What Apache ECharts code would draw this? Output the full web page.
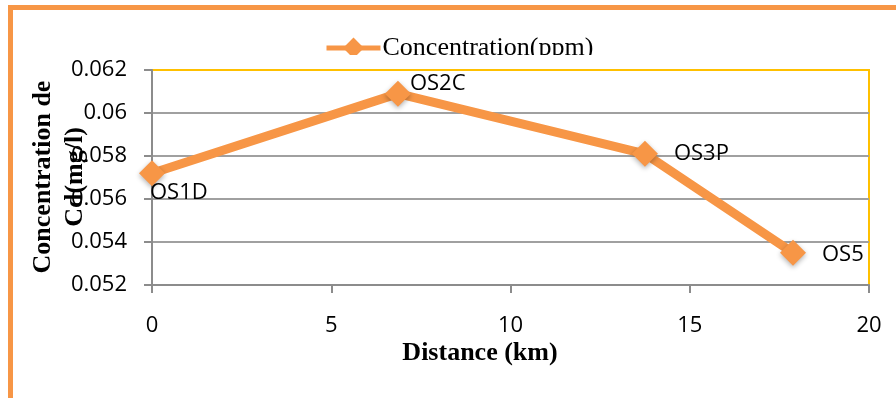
<!DOCTYPE html>
<html>
<head>
<meta charset="utf-8">
<script src="https://cdn.jsdelivr.net/npm/echarts@6/dist/echarts.min.js"></script>
<style>
html,body{margin:0;padding:0;background:#fff;}
#c{width:896px;height:398px;}
</style>
</head>
<body>
<div id="c"></div>
<script>
// ---- data ----
const sites = ['OS1D', 'OS2C', 'OS3P', 'OS5'];
const distanceKm = [0, 6.86, 13.75, 17.88];
const concentration = [0.0572, 0.0609, 0.0581, 0.0535];
const seriesName = 'Concentration(ppm)';
const xTitle = 'Distance (km)';
const yTitle = 'Concentration de\nCd(mg/l)';

// ---- styling ----
const ORANGE = '#F79646';
const labelOffsets = [[-2, 20], [12, -10], [29, 0], [29, 2]];
const tickFont = '"Open Sans", sans-serif';
const serif = '"Liberation Serif", "Times New Roman", serif';

const chart = echarts.init(document.getElementById('c'), null, {renderer: 'canvas'});

const data = distanceKm.map((d, i) => ({
  value: [d, concentration[i]],
  name: sites[i],
  label: {offset: labelOffsets[i]}
}));

chart.setOption({
  animation: false,
  backgroundColor: '#fff',
  grid: {
    left: 152, top: 70, right: 27, bottom: 113,
    show: true, borderColor: '#FFC000', borderWidth: 2, backgroundColor: 'transparent'
  },
  legend: {
    left: 319, top: 30,
    itemWidth: 54, itemHeight: 26, itemGap: 10,
    lineStyle: {width: 5},
    textStyle: {fontFamily: serif, fontSize: 26, color: '#000', padding: [0, 0, 0, -3]},
    data: [seriesName]
  },
  xAxis: {
    type: 'value', min: 0, max: 20, interval: 5,
    axisLine: {show: true, lineStyle: {color: '#8c8c8c', width: 2}},
    axisTick: {show: true, length: 8, lineStyle: {color: '#8c8c8c', width: 2}},
    splitLine: {show: false},
    axisLabel: {margin: 30, fontFamily: tickFont, fontSize: 22, color: '#000'}
  },
  yAxis: {
    type: 'value', min: 0.052, max: 0.062, interval: 0.002,
    axisLine: {show: true, lineStyle: {color: '#8c8c8c', width: 2}},
    axisTick: {show: true, length: 8, lineStyle: {color: '#8c8c8c', width: 2}},
    splitLine: {show: true, showMaxLine: false, lineStyle: {color: '#a0a0a0', width: 2}},
    axisLabel: {margin: 25, fontFamily: tickFont, fontSize: 22, color: '#000',
      formatter: v => String(parseFloat(v.toFixed(4)))}
  },
  series: [{
    name: seriesName,
    type: 'line',
    data: data,
    symbol: 'diamond',
    symbolSize: 26,
    lineStyle: {color: ORANGE, width: 9},
    itemStyle: {color: ORANGE, shadowColor: 'rgba(0,0,0,0.3)', shadowBlur: 5, shadowOffsetY: 2},
    label: {
      show: true, position: 'inside', align: 'left', verticalAlign: 'middle',
      fontFamily: tickFont, fontSize: 22, color: '#000',
      formatter: p => p.name
    },
    emphasis: {disabled: true},
    z: 5
  }],
  graphic: [
    {type: 'rect', z: 100, silent: true,
      shape: {x: 10.5, y: 7.5, width: 1000, height: 1000},
      style: {fill: 'none', stroke: ORANGE, lineWidth: 5}},
    {type: 'rect', z: 50, silent: true,
      shape: {x: 300, y: 55, width: 320, height: 14},
      style: {fill: '#fff'}},
    {type: 'text', z: 60, silent: true, x: 59, y: 177, rotation: Math.PI / 2,
      style: {text: yTitle, fontFamily: serif, fontWeight: 'bold', fontSize: 26, lineHeight: 32,
        fill: '#000', align: 'center', verticalAlign: 'middle'}},
    {type: 'text', z: 60, silent: true, x: 480, y: 353,
      style: {text: xTitle, fontFamily: serif, fontWeight: 'bold', fontSize: 26,
        fill: '#000', align: 'center', verticalAlign: 'middle'}}
  ]
});
</script>
</body>
</html>
